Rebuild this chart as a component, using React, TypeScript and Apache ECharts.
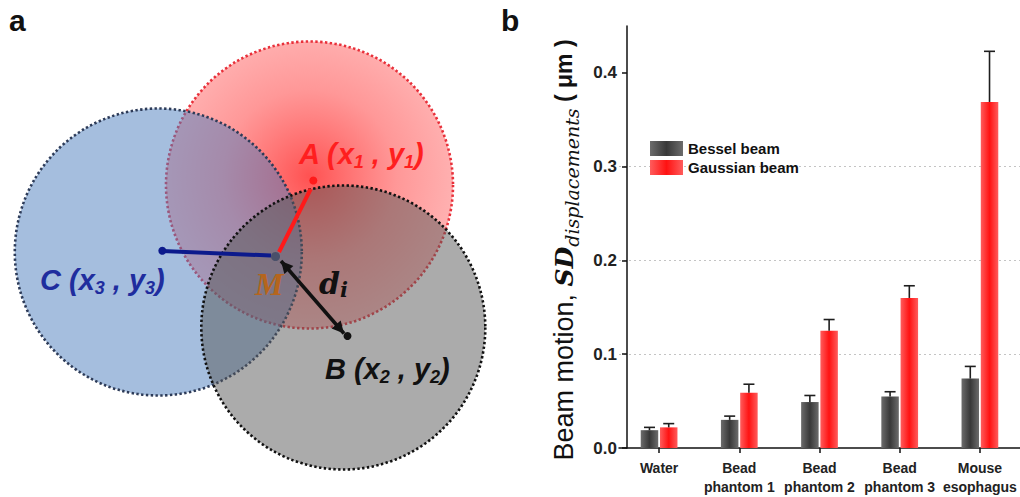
import React, { useEffect, useRef } from 'react';
import * as echarts from 'echarts';

// ---------- data ----------
const categories = ['Water', 'Bead\nphantom 1', 'Bead\nphantom 2', 'Bead\nphantom 3', 'Mouse\nesophagus'];
const besselMean = [0.019, 0.030, 0.049, 0.055, 0.074];
const besselErr = [0.003, 0.004, 0.007, 0.005, 0.013];
const gaussianMean = [0.022, 0.059, 0.125, 0.160, 0.369];
const gaussianErr = [0.004, 0.009, 0.012, 0.013, 0.054];
const yTicks = [0, 0.1, 0.2, 0.3, 0.4];
const seriesNames = ['Bessel beam', 'Gaussian beam'];

const BAR_W = 17.5;
const BAR_GAP = 0.1; // fraction of bar width

const grayGrad = new echarts.graphic.LinearGradient(0, 0, 1, 0, [
  { offset: 0, color: '#6c6c6c' },
  { offset: 0.5, color: '#383838' },
  { offset: 1, color: '#6c6c6c' },
]);
const redGrad = new echarts.graphic.LinearGradient(0, 0, 1, 0, [
  { offset: 0, color: '#ff5c5c' },
  { offset: 0.5, color: '#ff1212' },
  { offset: 1, color: '#ff5c5c' },
]);

function errSeries(means: number[], errs: number[], side: number) {
  const off = side * (BAR_W * (1 + BAR_GAP)) / 2;
  return {
    type: 'custom',
    data: means.map((m, i) => [i, m, m + errs[i]]),
    z: 5,
    silent: true,
    renderItem: (params: any, api: any) => {
      const i = api.value(0);
      const base = api.coord([i, api.value(1)]);
      const top = api.coord([i, api.value(2)]);
      const x = base[0] + off;
      const st = { stroke: '#1e1e1e', lineWidth: 1.6 };
      return {
        type: 'group',
        children: [
          { type: 'line', shape: { x1: x, y1: base[1], x2: x, y2: top[1] }, style: st },
          { type: 'line', shape: { x1: x - 5.5, y1: top[1], x2: x + 5.5, y2: top[1] }, style: st },
        ],
      };
    },
  };
}

// ---------- diagram helpers ----------
function richLabel(parts: string, color: string, main: number, sub: number, family: string) {
  return {
    text: parts,
    align: 'left',
    verticalAlign: 'middle',
    rich: {
      m: { fontSize: main, fontWeight: 'bold', fontStyle: 'italic', fontFamily: family, fill: color, color, lineHeight: 34 },
      s: { fontSize: sub, fontWeight: 'bold', fontStyle: 'italic', fontFamily: family, fill: color, color, lineHeight: 22, verticalAlign: 'bottom' },
    },
  };
}

function arrowHeads(x1: number, y1: number, x2: number, y2: number, len: number, half: number) {
  const dx = x2 - x1, dy = y2 - y1;
  const L = Math.sqrt(dx * dx + dy * dy);
  const ux = dx / L, uy = dy / L;
  const nx = -uy, ny = ux;
  const head = (px: number, py: number, dir: number) => [
    [px, py],
    [px - dir * len * ux + half * nx, py - dir * len * uy + half * ny],
    [px - dir * len * ux - half * nx, py - dir * len * uy - half * ny],
  ];
  return [head(x2, y2, 1), head(x1, y1, -1)];
}

export default function App() {
  const ref = useRef<HTMLDivElement>(null);
  useEffect(() => {
    document.body.style.margin = '0';
    if (!ref.current) return;
    const chart = echarts.init(ref.current, null, { renderer: 'svg' });

    const ax = { x1: 281, y1: 261, x2: 344, y2: 333.5 };
    const heads = arrowHeads(ax.x1, ax.y1, ax.x2, ax.y2, 12, 6);
    const dotted = { lineWidth: 2.6, lineDash: [2.4, 2.4] };

    const option: any = {
      animation: false,
      backgroundColor: '#ffffff',
      textStyle: { fontFamily: 'Liberation Sans' },
      grid: { left: 619, top: 26, width: 402, height: 422, containLabel: false },
      legend: {
        data: seriesNames,
        orient: 'vertical',
        left: 645,
        top: 136,
        itemWidth: 33,
        itemHeight: 15,
        itemGap: 4,
        icon: 'rect',
        textStyle: { fontSize: 15, fontWeight: 'bold', color: '#111', fontFamily: 'Liberation Sans', lineHeight: 15 },
      },
      xAxis: {
        type: 'category',
        data: categories,
        axisLine: { show: true, lineStyle: { color: '#111', width: 1.5 } },
        axisTick: { show: true, alignWithLabel: true, length: 5, lineStyle: { color: '#111', width: 1.5 } },
        axisLabel: { fontSize: 14, fontWeight: 'bold', color: '#222', lineHeight: 19, margin: 10, fontFamily: 'Liberation Sans', interval: 0 },
      },
      yAxis: {
        type: 'value',
        min: 0,
        max: 0.45,
        interval: 0.1,
        offset: -8,
        name: '{a|Beam motion, }{sd|SD}{sub|displacements}{u| ( μm )}',
        nameLocation: 'middle',
        nameRotate: 90,
        nameGap: 46,
        nameTextStyle: {
          padding: [0, 26, 0, 0],
          rich: {
            a: { fontSize: 27, fontFamily: 'Liberation Sans', color: '#111', lineHeight: 34 },
            sd: { fontSize: 25, fontFamily: 'DejaVu Serif', fontStyle: 'italic', fontWeight: 'bold', color: '#111', lineHeight: 34 },
            sub: { fontSize: 19, fontFamily: 'DejaVu Serif', fontStyle: 'italic', color: '#111', lineHeight: 24, verticalAlign: 'bottom' },
            u: { fontSize: 23, fontFamily: 'Liberation Sans', fontWeight: 'bold', color: '#111', lineHeight: 34 },
          },
        },
        axisLine: { show: true, lineStyle: { color: '#111', width: 1.5 } },
        axisTick: { show: true, length: 5, customValues: yTicks, lineStyle: { color: '#111', width: 1.5 } },
        axisLabel: {
          customValues: yTicks,
          formatter: (v: number) => v.toFixed(1),
          fontSize: 17,
          fontWeight: 'bold',
          color: '#222',
          margin: 10,
          fontFamily: 'Liberation Sans',
        },
        splitLine: { show: true, showMaxLine: false, showMinLine: false, lineStyle: { color: '#c4c4c4', type: [2, 3], width: 1 } },
      },
      series: [
        {
          name: seriesNames[0],
          type: 'bar',
          data: besselMean,
          barWidth: BAR_W,
          barGap: `${BAR_GAP * 100}%`,
          itemStyle: { color: grayGrad },
        },
        {
          name: seriesNames[1],
          type: 'bar',
          data: gaussianMean,
          barWidth: BAR_W,
          barGap: `${BAR_GAP * 100}%`,
          itemStyle: { color: redGrad },
        },
        errSeries(besselMean, besselErr, -1),
        errSeries(gaussianMean, gaussianErr, 1),
      ],
      graphic: [
        // circles: red (bottom), blue, gray (top)
        {
          type: 'circle',
          shape: { cx: 309.5, cy: 185, r: 143.5 },
          style: {
            fill: new echarts.graphic.RadialGradient(0.5, 0.47, 0.55, [
              { offset: 0, color: 'rgba(255,0,0,0.68)' },
              { offset: 0.55, color: 'rgba(255,30,30,0.46)' },
              { offset: 1, color: 'rgba(255,40,40,0.34)' },
            ]),
            stroke: '#e8303a',
            ...dotted,
          },
        },
        {
          type: 'circle',
          shape: { cx: 158.3, cy: 252, r: 143.5 },
          style: { fill: 'rgba(75,125,190,0.5)', stroke: '#2d3b58', ...dotted },
        },
        {
          type: 'circle',
          shape: { cx: 343.3, cy: 327.5, r: 142 },
          style: { fill: 'rgba(88,88,88,0.5)', stroke: '#111111', ...dotted },
        },
        // lines
        { type: 'line', shape: { x1: 310.7, y1: 189, x2: 279, y2: 252 }, style: { stroke: '#ff1a1a', lineWidth: 4 } },
        { type: 'line', shape: { x1: 162, y1: 251, x2: 271, y2: 255.5 }, style: { stroke: '#0c1a8c', lineWidth: 4 } },
        { type: 'line', shape: ax, style: { stroke: '#111', lineWidth: 3.5 } },
        { type: 'polygon', shape: { points: heads[0] }, style: { fill: '#111' } },
        { type: 'polygon', shape: { points: heads[1] }, style: { fill: '#111' } },
        // dots
        { type: 'circle', shape: { cx: 313.3, cy: 180.5, r: 4 }, style: { fill: '#ff1a1a' } },
        { type: 'circle', shape: { cx: 162.3, cy: 250.7, r: 4 }, style: { fill: '#0c1a8c' } },
        { type: 'circle', shape: { cx: 347.5, cy: 336, r: 4 }, style: { fill: '#111' } },
        { type: 'circle', shape: { cx: 275.5, cy: 256.5, r: 4.5 }, style: { fill: '#4a506a' } },
        // labels
        { type: 'text', x: 299, y: 154, style: richLabel('{m|A (}{m|x}{s|1}{m| , }{m|y}{s|1}{m|)}', '#ff1f1f', 29, 18, 'Liberation Sans') },
        { type: 'text', x: 40, y: 280, style: richLabel('{m|C (}{m|x}{s|3}{m| , }{m|y}{s|3}{m|)}', '#1f2d9e', 29, 18, 'Liberation Sans') },
        { type: 'text', x: 325, y: 369, style: richLabel('{m|B (}{m|x}{s|2}{m| , }{m|y}{s|2}{m|)}', '#111111', 29, 18, 'Liberation Sans') },
        {
          type: 'text',
          x: 255,
          y: 284,
          style: { text: 'M', fill: '#b5651d', fontSize: 32, fontWeight: 'bold', fontStyle: 'italic', fontFamily: 'Liberation Serif', align: 'left', verticalAlign: 'middle' },
        },
        {
          type: 'text',
          x: 319,
          y: 283,
          style: {
            text: '{d|d}{i|i}',
            align: 'left',
            verticalAlign: 'middle',
            rich: {
              d: { fontSize: 30, fontStyle: 'italic', fontWeight: 'bold', fontFamily: 'DejaVu Serif', fill: '#111', color: '#111', lineHeight: 34 },
              i: { fontSize: 21, fontStyle: 'italic', fontWeight: 'bold', fontFamily: 'DejaVu Serif', fill: '#111', color: '#111', lineHeight: 24, verticalAlign: 'bottom' },
            },
          },
        },
        {
          type: 'text',
          x: 9,
          y: 20,
          style: { text: 'a', fill: '#111', fontSize: 30, fontWeight: 'bold', fontFamily: 'Liberation Sans', align: 'left', verticalAlign: 'middle' },
        },
        {
          type: 'text',
          x: 501,
          y: 20,
          style: { text: 'b', fill: '#111', fontSize: 30, fontWeight: 'bold', fontFamily: 'Liberation Sans', align: 'left', verticalAlign: 'middle' },
        },
      ],
    };
    chart.setOption(option);
    return () => chart.dispose();
  }, []);
  return <div ref={ref} style={{ width: 1020, height: 497 }} />;
}
